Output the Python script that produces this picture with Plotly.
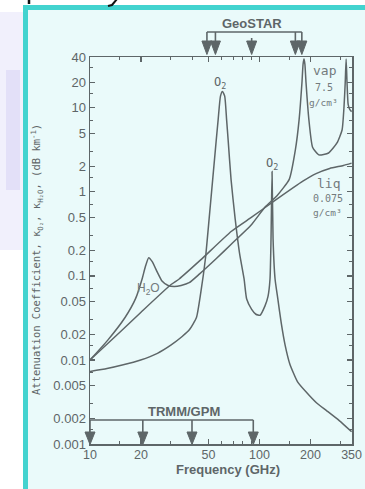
import numpy as np
import plotly.graph_objects as go

# ---------------- data ----------------
o2_freq = [10, 12.6, 15.5, 19.9, 25, 30, 35, 38.7, 42.5, 45, 48, 50.5, 53, 55.6, 57.1,
           58.9, 60.5, 62.4, 64, 65.4, 68, 71.9, 76.4, 81.2, 84.1, 90, 95.3, 100.8,
           107.9, 112.4, 115.5, 117.1, 118.75, 120.4, 123.7, 128.5, 134.5, 141.8, 151.3,
           168, 190, 217, 249, 296, 350]
o2_val = [0.0073, 0.0079, 0.0087, 0.010, 0.012, 0.015, 0.019, 0.023, 0.032, 0.062, 0.16,
          0.48, 1.41, 4.1, 7.3, 13.8, 15.7, 13.8, 7.3, 4.1, 1.41, 0.48, 0.184, 0.092, 0.053,
          0.040, 0.035, 0.034, 0.044, 0.057, 0.092, 0.276, 1.75, 0.276, 0.092, 0.053, 0.0276,
          0.015, 0.0089, 0.0055, 0.0041, 0.0031, 0.0025, 0.0019, 0.0014]

h2o_freq = [10, 12.7, 16.1, 18.6, 20.3, 21.2, 22.2, 23.3, 25, 26.6, 28.9, 31.4, 34.5, 38.5,
            44.2, 55.5, 68.4, 90, 108, 127, 150, 163, 171.6, 178.3, 181, 183.3, 185.6, 188.4,
            195.8, 206, 224, 256, 287, 307.6, 316, 321, 325, 329, 334, 342, 350]
h2o_val = [0.010, 0.0171, 0.032, 0.054, 0.092, 0.128, 0.165, 0.148, 0.11, 0.087, 0.077, 0.075,
           0.077, 0.083, 0.105, 0.16, 0.24, 0.41, 0.66, 0.9, 1.41, 3.16, 7.3, 20, 33, 38, 33,
           20, 7.3, 3.4, 2.76, 2.9, 3.82, 5.45, 10.5, 20, 38, 20, 11, 9.5, 9]

liq_freq = [10, 15, 20, 30.1, 33.6, 45, 68.4, 90, 122.5, 180.5, 216, 260, 313, 350]
liq_val = [0.010, 0.0214, 0.037, 0.079, 0.092, 0.155, 0.34, 0.50, 0.78, 1.34, 1.65, 1.9, 2.06, 2.2]

y_tick_vals = [0.001, 0.002, 0.005, 0.01, 0.02, 0.05, 0.1, 0.2, 0.5, 1, 2, 5, 10, 20, 40]
y_tick_text = ["0.001", "0.002", "0.005", "0.01", "0.02", "0.05", "0.1", "0.2", "0.5",
               "1", "2", "5", "10", "20", "40"]
y_minor_vals = [0.0015, 0.003, 0.007, 0.015, 0.03, 0.07, 0.15, 0.3, 0.7, 1.5, 3, 7, 15, 30]
x_tick_vals = [10, 20, 50, 100, 200, 350]
x_tick_text = ["10", "20", "50", "100", "200", "350"]
x_minor_vals = [15, 30, 40, 60, 70, 80, 90, 150, 300]

geostar_freq = [49, 55, 90, 163, 178]
trmm_freq = [10, 20.5, 40, 92]

# ---------------- layout helpers ----------------
W, H = 365, 489
L, R, T, B = 90, 352, 57, 444
XLOG = [1.0, float(np.log10(352))]
YLOG = [-3.0, 1.605]
INK = "#5e6668"
SOFT = "#737b7d"


def pxx(x):
    return (x - L) / (R - L)


def pxy(y):
    return (B - y) / (B - T)


def fx(f):
    return (np.log10(f) - XLOG[0]) / (XLOG[1] - XLOG[0])


fig = go.Figure()
for fr, vv in [(o2_freq, o2_val), (h2o_freq, h2o_val), (liq_freq, liq_val)]:
    fig.add_trace(go.Scatter(x=fr, y=vv, mode="lines",
                             line=dict(color=INK, width=1.5, shape="spline", smoothing=0.5),
                             hoverinfo="skip", showlegend=False))

shapes = []
# page background pieces
shapes.append(dict(type="rect", xref="paper", yref="paper", x0=pxx(-5), x1=pxx(23),
                   y0=pxy(250), y1=pxy(12), fillcolor="rgba(215,212,245,0.35)",
                   line_width=0, layer="below"))
shapes.append(dict(type="rect", xref="paper", yref="paper", x0=pxx(6), x1=pxx(20),
                   y0=pxy(190), y1=pxy(70), fillcolor="rgba(195,190,240,0.3)",
                   line_width=0, layer="below"))
shapes.append(dict(type="rect", xref="paper", yref="paper", x0=pxx(28), x1=pxx(W + 5),
                   y0=pxy(H + 5), y1=pxy(10), fillcolor="#eafafa", line_width=0, layer="below"))
shapes.append(dict(type="rect", xref="paper", yref="paper", x0=pxx(23), x1=pxx(28),
                   y0=pxy(H + 5), y1=pxy(5), fillcolor="#43d3cf", line_width=0, layer="below"))
shapes.append(dict(type="rect", xref="paper", yref="paper", x0=pxx(23), x1=pxx(W + 5),
                   y0=pxy(10), y1=pxy(5), fillcolor="#43d3cf", line_width=0, layer="below"))
# cut-off title fragments at the very top
shapes.append(dict(type="line", xref="paper", yref="paper", x0=pxx(29), x1=pxx(29),
                   y0=pxy(4), y1=pxy(-2), line=dict(color="#111", width=2.5)))
shapes.append(dict(type="path", xref="paper", yref="paper",
                   path=f"M {pxx(117)},{pxy(-1)} L {pxx(112)},{pxy(5)} L {pxx(108)},{pxy(6)}",
                   line=dict(color="#111", width=2)))


def tri(xp, ytop, ytip, half=5):
    dx = half / (R - L)
    return dict(type="path", xref="paper", yref="paper",
                path=f"M {xp - dx},{pxy(ytop)} L {xp + dx},{pxy(ytop)} L {xp},{pxy(ytip)} Z",
                fillcolor=INK, line=dict(color=INK, width=1))


def seg(x0, y0, x1, y1):
    return dict(type="line", xref="paper", yref="paper", x0=x0, y0=y0, x1=x1, y1=y1,
                line=dict(color=INK, width=1.6))


# GeoSTAR bracket
gx = [fx(f) for f in geostar_freq]
shapes.append(seg(gx[0], pxy(32), gx[-1], pxy(32)))
for i, xp in enumerate(gx):
    top = 38 if i == 2 else 32
    shapes.append(seg(xp, pxy(top), xp, pxy(41)))
    shapes.append(tri(xp, 41, 54.5))

# TRMM/GPM bracket
tx = [fx(f) for f in trmm_freq]
shapes.append(seg(tx[0], pxy(420), tx[-1], pxy(420)))
for xp in tx:
    shapes.append(seg(xp, pxy(420), xp, pxy(432)))
    shapes.append(tri(xp, 432, 444.5))

SANS = "Liberation Sans"
MONO = "DejaVu Sans Mono"


def ann(x, y, text, size, color=INK, family=SANS, **kw):
    d = dict(x=pxx(x), y=pxy(y), xref="paper", yref="paper", text=text, showarrow=False,
             xanchor="center", yanchor="middle", font=dict(family=family, size=size, color=color))
    d.update(kw)
    return d


annotations = [
    ann(252, 23, "<b>GeoSTAR</b>", 13),
    ann(184, 411, "<b>TRMM/GPM</b>", 13),
    ann(228, 469, "<b>Frequency (GHz)</b>", 13),
    ann(37, 260, "Attenuation Coefficient, κ<sub>O₂</sub>, κ<sub>H₂O</sub>, (dB km<sup>-1</sup>)",
        10.5, family=MONO, textangle=-90),
    ann(220, 83, "O<sub>2</sub>", 12, family=MONO),
    ann(271.5, 164, "O<sub>2</sub>", 12, family=MONO),
    ann(325, 70, "vap", 13, color=SOFT, family=MONO),
    ann(323.5, 87, "7.5", 10, color=SOFT, family=MONO),
    ann(323.5, 102, "g/cm³", 9.5, color=SOFT, family=MONO),
    ann(328, 183, "liq", 13, color=SOFT, family=MONO),
    ann(327.5, 198, "0.075", 10, color=SOFT, family=MONO),
    ann(327.5, 212, "g/cm³", 9.5, color=SOFT, family=MONO),
    ann(148, 289, "H<sub>2</sub>O", 12, color=SOFT, family=SANS),
]

axis_common = dict(showgrid=False, zeroline=False, showline=True, linecolor=INK, linewidth=1.5,
                   mirror="ticks", ticks="inside", ticklen=5, tickwidth=1.2, tickcolor=INK,
                   automargin=False)

fig.update_layout(
    width=W, height=H,
    margin=dict(l=L, r=W - R, t=T, b=H - B, autoexpand=False),
    paper_bgcolor="white", plot_bgcolor="rgba(0,0,0,0)",
    showlegend=False,
    shapes=shapes, annotations=annotations,
    xaxis=dict(type="log", range=XLOG, tickmode="array", tickvals=x_tick_vals,
               ticktext=x_tick_text, tickfont=dict(family=SANS, size=12.5, color=INK),
               ticklabelstandoff=-2,
               minor=dict(tickmode="array", tickvals=x_minor_vals, ticks="inside", ticklen=3,
                          tickwidth=1, tickcolor=INK),
               **axis_common),
    yaxis=dict(type="log", range=YLOG, tickmode="array", tickvals=y_tick_vals,
               ticktext=y_tick_text, tickfont=dict(family=SANS, size=13, color=INK),
               minor=dict(tickmode="array", tickvals=y_minor_vals, ticks="inside", ticklen=3,
                          tickwidth=1, tickcolor=INK),
               **axis_common),
)

fig.write_html("out.html", config={"displayModeBar": False, "staticPlot": True},
               post_script="document.body.style.margin='0px';document.body.style.overflow='hidden';")
